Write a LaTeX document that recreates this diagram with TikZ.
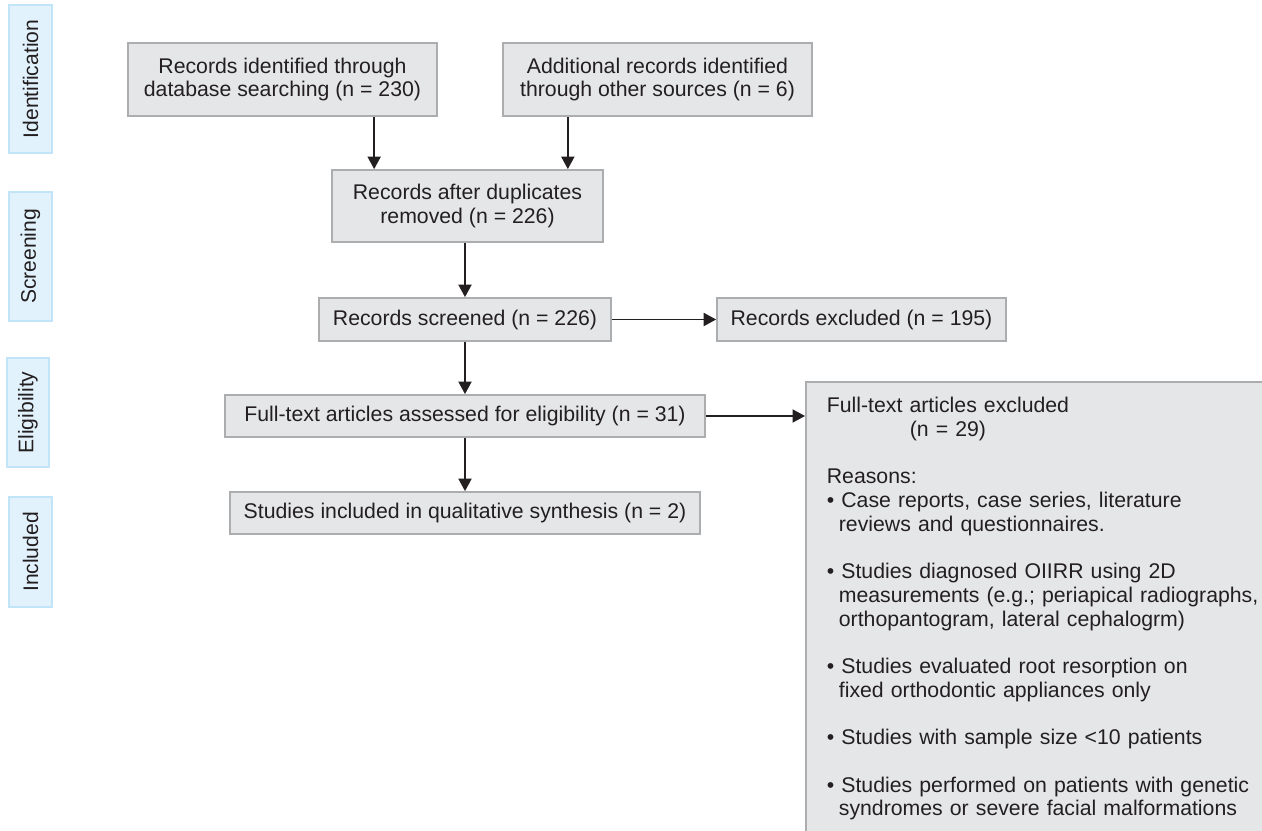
\documentclass[tikz,border=0pt]{standalone}
\usepackage{fontspec}
\setmainfont{Liberation Sans}
\usetikzlibrary{shapes,arrows.meta,positioning,calc}

\definecolor{boxgray}{HTML}{E5E6E8}
\definecolor{boxline}{HTML}{ABADAF}
\definecolor{inkgray}{HTML}{231F20}
\definecolor{phasefill}{HTML}{E2F2FC}
\definecolor{phaseline}{HTML}{C2E4F8}

\tikzset{
  flowbox/.style={draw=boxline, fill=boxgray, line width=0.035cm, text=inkgray,
    align=center, inner sep=0pt, font=\fontsize{12.1}{13.5}\selectfont},
  phasebox/.style={draw=phaseline, fill=phasefill, line width=0.035cm, text=inkgray,
    rotate=90, inner sep=0pt, font=\fontsize{12}{14}\selectfont},
  arrowline/.style={-{Triangle[length=0.25cm,width=0.26cm]}, line width=0.038cm, draw=inkgray}
}

\begin{document}
\begin{tikzpicture}[x=0.02cm,y=-0.02cm]
\useasboundingbox (0,0) rectangle (1262,831);

% phases
\node[phasebox, minimum width=2.96cm, minimum height=0.86cm] (ident) at (30.5,79) {Identification};
\node[phasebox, minimum width=2.58cm, minimum height=0.86cm] (screen) at (30.5,256.5) {Screening};
\node[phasebox, minimum width=2.18cm, minimum height=0.84cm] (elig) at (28,412.5) {Eligibility};
\node[phasebox, minimum width=2.20cm, minimum height=0.86cm] (incl) at (30.5,552) {Included};

% flow
\node[flowbox, minimum width=6.18cm, minimum height=1.46cm] (db) at (282.5,79.5)
  {Records identified through\\database searching (n = 230)};
\node[flowbox, minimum width=6.18cm, minimum height=1.46cm] (other) at (657.5,79.5)
  {Additional records identified\\through other sources (n = 6)};
\node[flowbox, minimum width=5.42cm, minimum height=1.44cm] (dup) at (467.5,206)
  {Records after duplicates\\removed (n = 226)};
\node[flowbox, minimum width=5.84cm, minimum height=0.86cm] (screened) at (465,319.5)
  {Records screened (n = 226)};
\node[flowbox, minimum width=5.78cm, minimum height=0.86cm] (excl) at (861.5,319.5)
  {Records excluded (n = 195)};
\node[flowbox, minimum width=9.60cm, minimum height=0.84cm] (assessed) at (465,416)
  {Full-text articles assessed for eligibility (n = 31)};
\node[flowbox, minimum width=9.40cm, minimum height=0.84cm] (synth) at (465,513)
  {Studies included in qualitative synthesis (n = 2)};
\node[flowbox, anchor=north west, align=left, text width=9.0cm,
  inner xsep=0.42cm, inner ysep=0.31cm] (ftexcl) at (805,381)
  {Full-text articles excluded\\
   \hspace*{1.66cm}(n = 29)\\[\baselineskip]
   Reasons:\\
   • Case reports, case series, literature\\
   \hspace*{0.24cm}reviews and questionnaires.\\[\baselineskip]
   • Studies diagnosed OIIRR using 2D\\
   \hspace*{0.24cm}measurements (e.g.; periapical radiographs,\\
   \hspace*{0.24cm}orthopantogram, lateral cephalogrm)\\[\baselineskip]
   • Studies evaluated root resorption on\\
   \hspace*{0.24cm}fixed orthodontic appliances only\\[\baselineskip]
   • Studies with sample size <10 patients\\[\baselineskip]
   • Studies performed on patients with genetic\\
   \hspace*{0.24cm}syndromes or severe facial malformations};

% arrows
\path ($(dup.north west)+(43,0)$) coordinate (dbdrop);
\path ($(dup.north east)+(-36,0)$) coordinate (othdrop);
\draw[arrowline] (dbdrop |- db.south) -- (dbdrop);
\draw[arrowline] (othdrop |- other.south) -- (othdrop);
\draw[arrowline] (screened.north |- dup.south) -- (screened.north);
\draw[arrowline] (screened.east) -- (excl.west);
\draw[arrowline] (screened.south) -- (assessed.north);
\draw[arrowline] (assessed.south) -- (synth.north);
\draw[arrowline] (assessed.east) -- (assessed.east -| ftexcl.west);
\end{tikzpicture}
\end{document}
